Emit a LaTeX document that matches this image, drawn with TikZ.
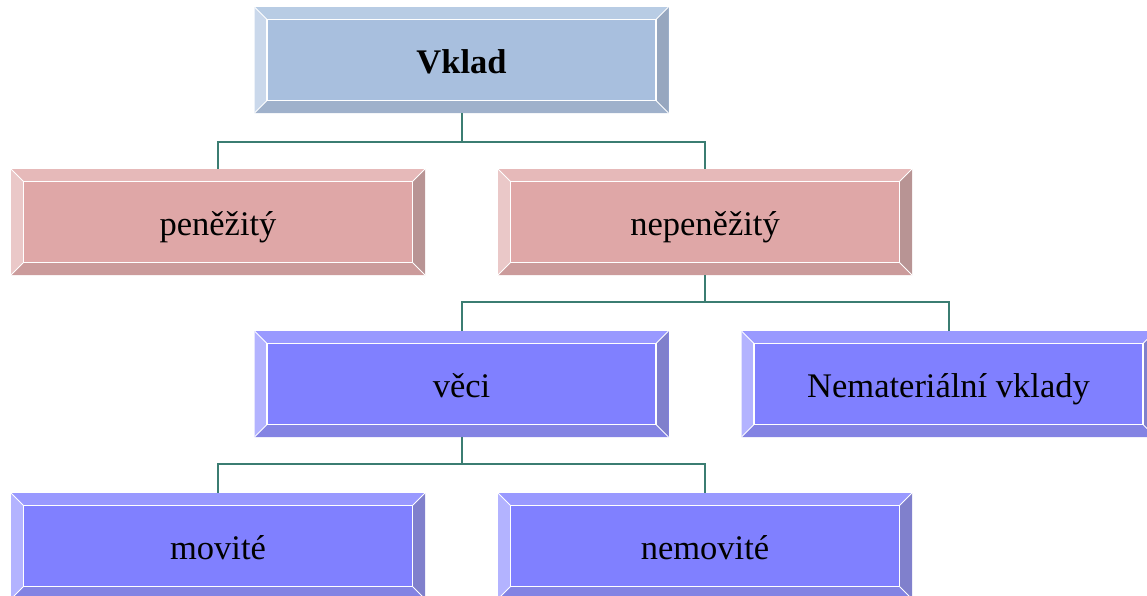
\documentclass[tikz,border=0pt]{standalone}
\usepackage{fontspec}
\setmainfont{Liberation Serif}

\definecolor{vkmain}{HTML}{A8BFDE}
\definecolor{vktop}{HTML}{B8CCE4}
\definecolor{vkleft}{HTML}{CAD8EB}
\definecolor{vkright}{HTML}{97A7BF}
\definecolor{vkbot}{HTML}{9FB1CB}
\definecolor{pkmain}{HTML}{DFA7A7}
\definecolor{pktop}{HTML}{E6B9B9}
\definecolor{pkleft}{HTML}{EAC8C8}
\definecolor{pkright}{HTML}{B89494}
\definecolor{pkbot}{HTML}{CB9B9B}
\definecolor{blmain}{HTML}{8080FF}
\definecolor{bltop}{HTML}{9999FF}
\definecolor{blleft}{HTML}{B3B3FF}
\definecolor{blright}{HTML}{8080CC}
\definecolor{blbot}{HTML}{8383E3}
\definecolor{linkcol}{HTML}{3B7D72}

\tikzset{
  tile/.style={minimum width=414pt, minimum height=106pt, inner sep=0pt,
    text height=27pt, text depth=0pt,
    fill=#1main, font=\fontsize{34.5}{40}\selectfont,
    path picture={
      \path (path picture bounding box.north west) coordinate (nw)
            (path picture bounding box.north east) coordinate (ne)
            (path picture bounding box.south west) coordinate (sw)
            (path picture bounding box.south east) coordinate (se)
            ([shift={(12.5pt,-12.5pt)}]nw) coordinate (inw)
            ([shift={(-12.5pt,-12.5pt)}]ne) coordinate (ine)
            ([shift={(12.5pt,12.5pt)}]sw) coordinate (isw)
            ([shift={(-12.5pt,12.5pt)}]se) coordinate (ise);
      \fill[#1top] (nw) -- (ne) -- (ine) -- (inw) -- cycle;
      \fill[#1left] (nw) -- (sw) -- (isw) -- (inw) -- cycle;
      \fill[#1right] (ne) -- (se) -- (ise) -- (ine) -- cycle;
      \fill[#1bot] (sw) -- (se) -- (ise) -- (isw) -- cycle;
      \draw[white, line width=0.8pt] (nw) -- (inw) (ne) -- (ine) (sw) -- (isw) (se) -- (ise);
      \draw[white, line width=1.5pt] (inw) rectangle (ise);
    }},
  link/.style={draw=linkcol, line width=2pt}
}

\begin{document}
\begin{tikzpicture}[node distance=162pt]
  \clip (0pt,0pt) rectangle (1147pt,-595pt);
  % Vklad
  \node[tile=vk] (vklad) at (461.5pt,-60pt) {\bfseries Vklad};
  \node[tile=pk, below of=vklad, xshift=-243.5pt] (penezity) {peněžitý};
  \node[tile=pk, below of=vklad, xshift=243.5pt] (nepenezity) {nepeněžitý};
  \node[tile=bl, below of=nepenezity, xshift=-243.5pt] (veci) {věci};
  \node[tile=bl, below of=nepenezity, xshift=243.5pt] (nehmotne) {Nemateriální vklady};
  \node[tile=bl, below of=veci, xshift=-243.5pt] (movite) {movité};
  \node[tile=bl, below of=veci, xshift=243.5pt] (nemovite) {nemovité};

  \draw[link] (vklad.south) -- ++(0,-28.5pt) -| (penezity.north);
  \draw[link] (vklad.south) -- ++(0,-28.5pt) -| (nepenezity.north);
  \draw[link] (nepenezity.south) -- ++(0,-27pt) -| (veci.north);
  \draw[link] (nepenezity.south) -- ++(0,-27pt) -| (nehmotne.north);
  \draw[link] (veci.south) -- ++(0,-27pt) -| (movite.north);
  \draw[link] (veci.south) -- ++(0,-27pt) -| (nemovite.north);

\end{tikzpicture}
\end{document}
